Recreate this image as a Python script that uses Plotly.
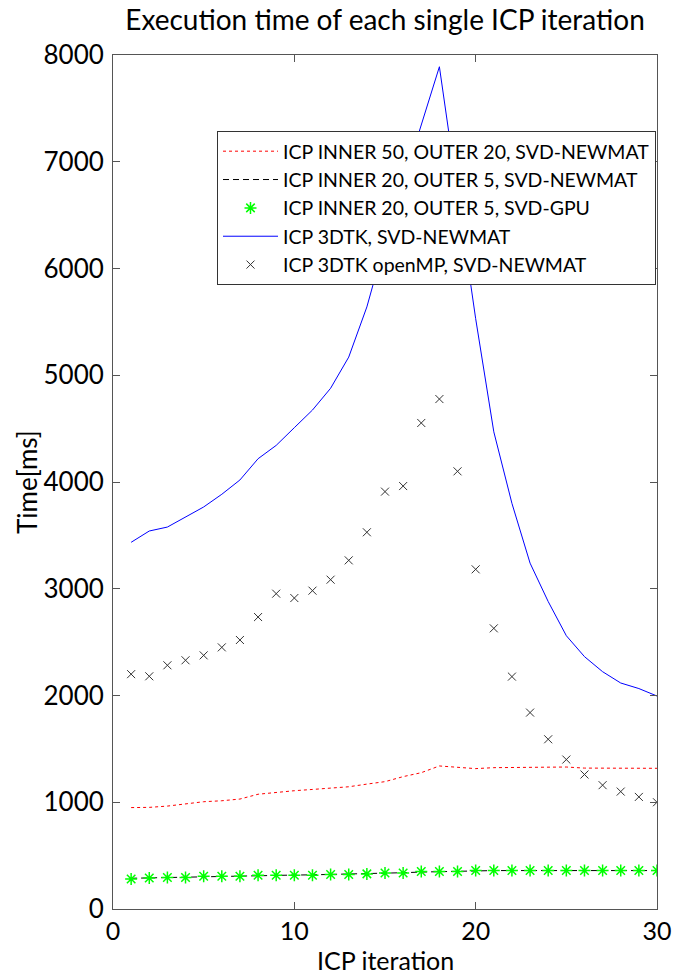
import plotly.graph_objects as go

# ICP iteration index
iterations = list(range(1, 31))

# Execution time per ICP iteration [ms]
inner50_outer20_newmat = [950, 952, 964, 983, 1005, 1014, 1030, 1075, 1095, 1108,
                          1120, 1130, 1145, 1170, 1193, 1240, 1277, 1340, 1324, 1315,
                          1324, 1327, 1327, 1330, 1330, 1320, 1318, 1318, 1320, 1318]
inner20_outer5_newmat = [288, 292, 296, 299, 304, 307, 309, 313, 316, 318,
                         320, 323, 326, 330, 335, 340, 346, 351, 355, 358,
                         360, 360, 360, 360, 360, 360, 360, 360, 360, 360]
inner20_outer5_gpu = [281, 290, 295, 295, 307, 307, 307, 316, 316, 316,
                      316, 323, 323, 329, 338, 338, 351, 351, 351, 360,
                      360, 360, 360, 360, 360, 360, 360, 360, 360, 360]
icp_3dtk_newmat = [3435, 3541, 3578, 3675, 3766, 3885, 4019, 4218, 4343, 4509,
                   4674, 4878, 5170, 5640, 6250, 6800, 7340, 7890, 6705, 5530,
                   4470, 3800, 3240, 2880, 2560, 2364, 2223, 2117, 2065, 1995]
icp_3dtk_openmp = [2200, 2180, 2283, 2330, 2376, 2451, 2520, 2735, 2954, 2913,
                   2982, 3085, 3266, 3529, 3910, 3962, 4553, 4777, 4100, 3182,
                   2629, 2177, 1840, 1590, 1400, 1260, 1160, 1100, 1050, 1000]

x_ticks = [0, 10, 20, 30]
y_ticks = [0, 1000, 2000, 3000, 4000, 5000, 6000, 7000, 8000]

FONT = "Lato"
AXIS_COLOR = "#555555"
W, H = 688, 976

fig = go.Figure()

fig.add_trace(go.Scatter(
    x=iterations, y=inner50_outer20_newmat, mode="lines",
    name="ICP INNER 50, OUTER 20, SVD-NEWMAT",
    line=dict(color="#ff0000", width=1, dash="dot"),
))
fig.add_trace(go.Scatter(
    x=iterations, y=inner20_outer5_newmat, mode="lines",
    name="ICP INNER 20, OUTER 5, SVD-NEWMAT",
    line=dict(color="#000000", width=1, dash="6px,4px"),
))
fig.add_trace(go.Scatter(
    x=iterations, y=inner20_outer5_gpu, mode="markers",
    name="ICP INNER 20, OUTER 5, SVD-GPU",
    marker=dict(symbol="asterisk-open", size=10, color="#00ff00",
                line=dict(color="#00ff00", width=1.5)),
))
fig.add_trace(go.Scatter(
    x=iterations, y=icp_3dtk_newmat, mode="lines",
    name="ICP 3DTK, SVD-NEWMAT",
    line=dict(color="#0000ff", width=1),
))
fig.add_trace(go.Scatter(
    x=iterations, y=icp_3dtk_openmp, mode="markers",
    name="ICP 3DTK openMP, SVD-NEWMAT",
    marker=dict(symbol="x-thin-open", size=8, color="#333333",
                line=dict(color="#333333", width=1)),
))

fig.update_layout(
    width=W, height=H,
    margin=dict(l=113, r=31, t=55, b=67, pad=0),
    paper_bgcolor="white", plot_bgcolor="white",
    font=dict(family=FONT, color="black"),
    title=dict(
        text="Execution time of each single ICP iteration",
        x=(113 + 657) / 2 / W, xanchor="center",
        y=1 - 20 / H, yanchor="middle", yref="container",
        font=dict(family=FONT, size=28, color="black"),
    ),
    showlegend=True,
    legend=dict(
        x=(217 - 113) / 544, y=(909 - 131) / 854,
        xanchor="left", yanchor="top",
        bgcolor="white", bordercolor="#333333", borderwidth=1,
        font=dict(family=FONT, size=19.5, color="black"),
        itemwidth=55,
        tracegroupgap=0,
    ),
    xaxis=dict(
        range=[0, 30], tickvals=x_ticks, ticktext=[str(v) for v in x_ticks],
        showgrid=False, zeroline=False, automargin=False,
        showline=True, linecolor=AXIS_COLOR, linewidth=1, mirror="ticks",
        ticks="inside", ticklen=7, tickcolor=AXIS_COLOR, tickwidth=1,
        ticklabelstandoff=0,
        tickfont=dict(family=FONT, size=25, color="black"),
    ),
    yaxis=dict(
        range=[0, 8000], tickvals=y_ticks, ticktext=[str(v) for v in y_ticks],
        showgrid=False, zeroline=False, automargin=False,
        showline=True, linecolor=AXIS_COLOR, linewidth=1, mirror="ticks",
        ticks="inside", ticklen=7, tickcolor=AXIS_COLOR, tickwidth=1,
        ticklabelstandoff=3,
        tickfont=dict(family=FONT, size=26, color="black"),
    ),
    annotations=[
        # axis titles placed in page pixels
        dict(text="ICP iteration", xref="paper", yref="paper",
             x=0.5, y=-(960 - 909) / 854, xanchor="center", yanchor="middle",
             showarrow=False, font=dict(family=FONT, size=25, color="black")),
        dict(text="Time[ms]", xref="paper", yref="paper",
             x=-(113 - 27) / 544, y=0.5, xanchor="center", yanchor="middle",
             textangle=-90, showarrow=False,
             font=dict(family=FONT, size=26, color="black")),
    ],
)

fig.write_html("out.html")
